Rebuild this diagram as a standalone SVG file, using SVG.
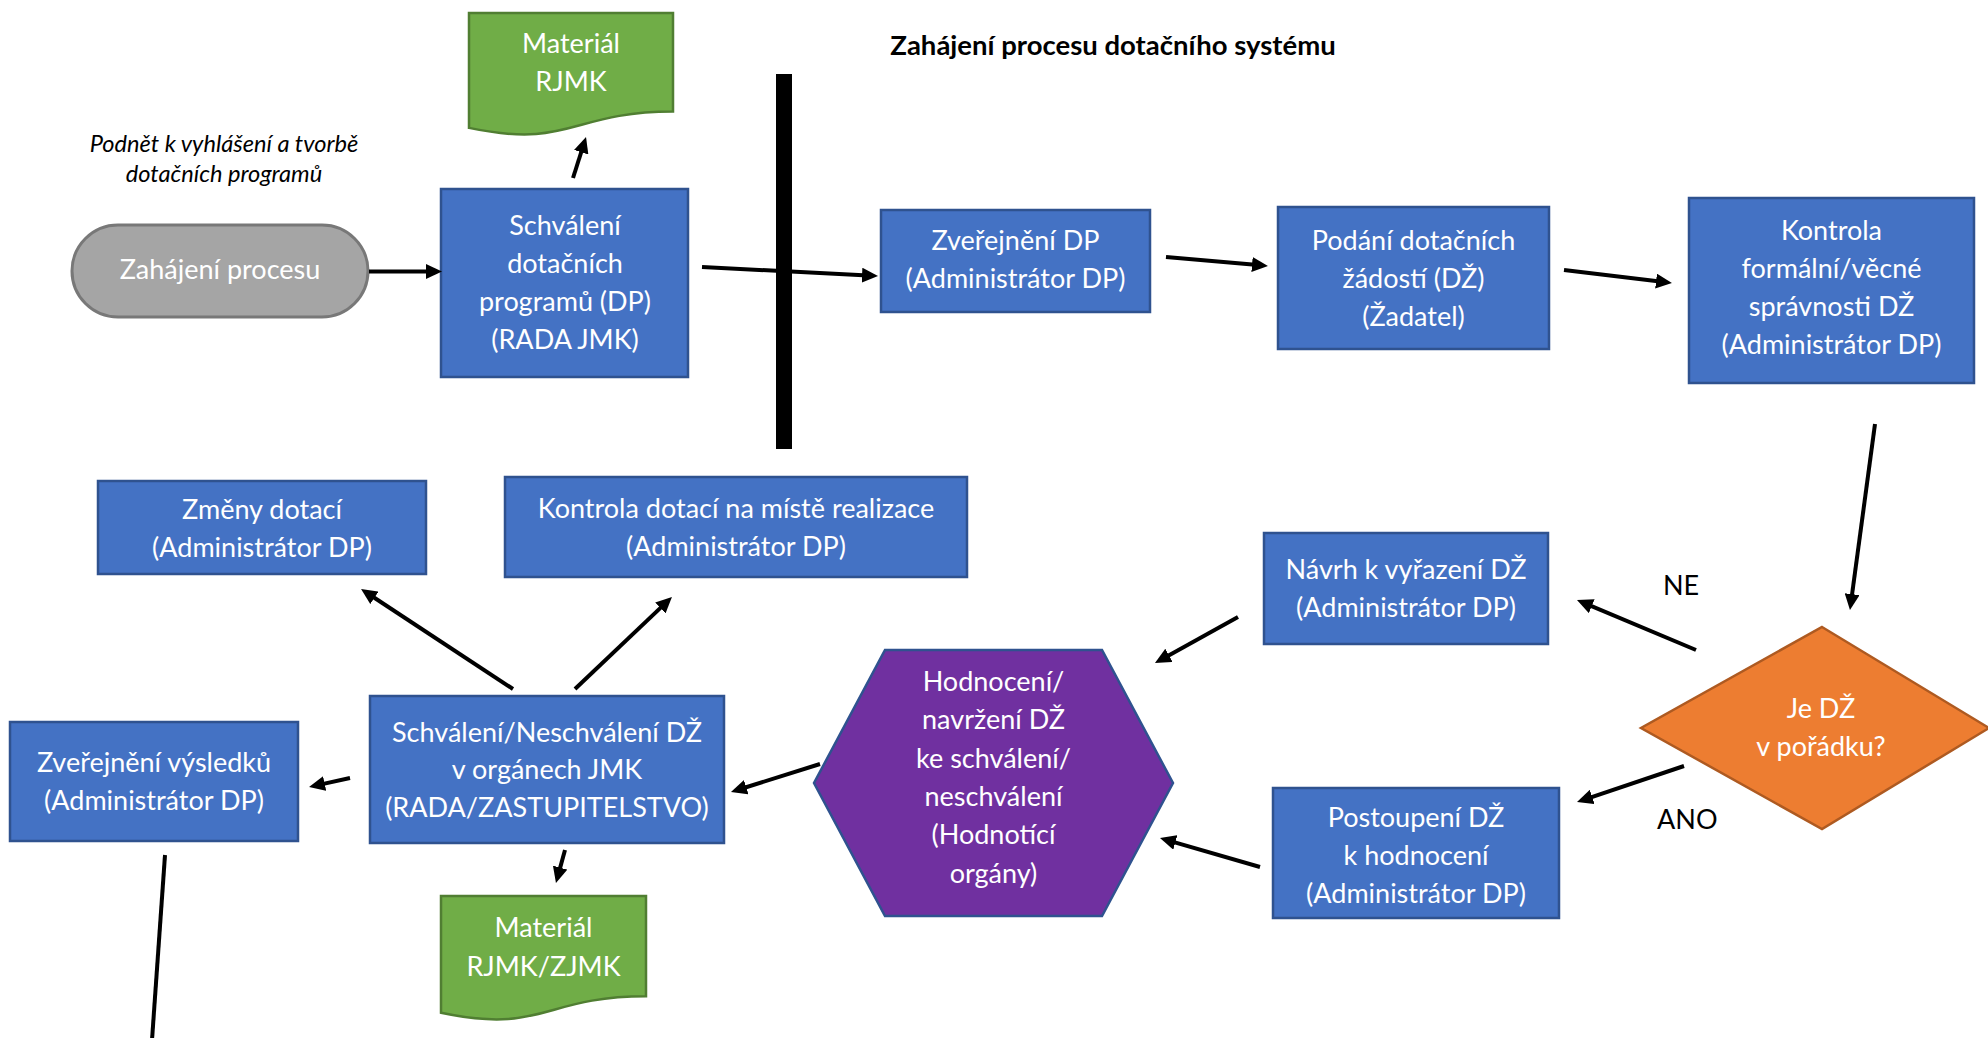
<svg xmlns="http://www.w3.org/2000/svg" width="1988" height="1038" viewBox="0 0 1988 1038">
<style>
.box{fill:#4472c4;stroke:#2f528f;stroke-width:2.5}
.doc{fill:#70ad47;stroke:#507e32;stroke-width:2.5}
.t{font-family:Lato,"Liberation Sans",sans-serif;font-size:27px;fill:#ffffff;text-anchor:middle}
.k{font-family:Lato,"Liberation Sans",sans-serif;font-size:27px;fill:#000000}
.conn line{stroke:#000;stroke-width:4;fill:none}
.conn line.a{marker-end:url(#ah)}
</style>
<defs>
<marker id="ah" markerUnits="userSpaceOnUse" markerWidth="16" markerHeight="15" refX="6" refY="7.5" orient="auto"><path d="M0,0 L16,7.5 L0,15 Z" fill="#000"/></marker>
</defs>
<rect width="1988" height="1038" fill="#ffffff"/>

<g id="title"><text x="1113" y="55" class="k" style="font-weight:bold;font-size:27.5px;text-anchor:middle">Zahájení procesu dotačního systému</text></g>
<g id="podnet"><text class="k" style="font-style:italic;font-size:23.6px;text-anchor:middle"><tspan x="224" y="152">Podnět k vyhlášení a tvorbě</tspan><tspan x="224" y="182">dotačních programů</tspan></text></g>

<g id="bar"><rect x="776" y="74" width="16" height="375" fill="#000"/></g>

<g id="start"><rect x="72" y="225" width="296" height="92" rx="46" ry="46" fill="#a5a5a5" stroke="#787878" stroke-width="3"/><text x="220" y="279" class="t">Zahájení procesu</text></g>

<g id="schvaleni-dp"><rect class="box" x="441" y="189" width="247" height="188"/><text class="t"><tspan x="565" y="235">Schválení</tspan><tspan x="565" y="273">dotačních</tspan><tspan x="565" y="311">programů (DP)</tspan><tspan x="565" y="349">(RADA JMK)</tspan></text></g>

<g id="material-rjmk"><path class="doc" d="M469,13 H673 V111.6 C571,111.6 571,149.2 469,127.9 Z"/><text class="t"><tspan x="571" y="53">Materiál</tspan><tspan x="571" y="91">RJMK</tspan></text></g>

<g id="zverejneni-dp"><rect class="box" x="881" y="210" width="269" height="102"/><text class="t"><tspan x="1015.5" y="250">Zveřejnění DP</tspan><tspan x="1015.5" y="288">(Administrátor DP)</tspan></text></g>

<g id="podani"><rect class="box" x="1278" y="207" width="271" height="142"/><text class="t"><tspan x="1413.5" y="250">Podání dotačních</tspan><tspan x="1413.5" y="288">žádostí (DŽ)</tspan><tspan x="1413.5" y="326">(Žadatel)</tspan></text></g>

<g id="kontrola-formalni"><rect class="box" x="1689" y="198" width="285" height="185"/><text class="t"><tspan x="1831.5" y="240">Kontrola</tspan><tspan x="1831.5" y="278">formální/věcné</tspan><tspan x="1831.5" y="316">správnosti DŽ</tspan><tspan x="1831.5" y="354">(Administrátor DP)</tspan></text></g>

<g id="je-dz"><path d="M1822,627 L1989,728 L1822,829 L1641,728 Z" fill="#ed7d31" stroke="#ae5a21" stroke-width="2.5"/><text class="t"><tspan x="1821" y="718">Je DŽ</tspan><tspan x="1821" y="756">v pořádku?</tspan></text></g>

<g id="navrh"><rect class="box" x="1264" y="533" width="284" height="111"/><text class="t"><tspan x="1406" y="579">Návrh k vyřazení DŽ</tspan><tspan x="1406" y="617">(Administrátor DP)</tspan></text></g>

<g id="postoupeni"><rect class="box" x="1273" y="788" width="286" height="130"/><text class="t"><tspan x="1416" y="827">Postoupení DŽ</tspan><tspan x="1416" y="865">k hodnocení</tspan><tspan x="1416" y="903">(Administrátor DP)</tspan></text></g>

<g id="hodnoceni"><path d="M885,650 L1102,650 L1173,783 L1102,916 L885,916 L814,783 Z" fill="#7030a0" stroke="#2f528f" stroke-width="2.5"/><text class="t"><tspan x="993.5" y="691">Hodnocení/</tspan><tspan x="993.5" y="729">navržení DŽ</tspan><tspan x="993.5" y="768">ke schválení/</tspan><tspan x="993.5" y="806">neschválení</tspan><tspan x="993.5" y="844">(Hodnotící</tspan><tspan x="993.5" y="883">orgány)</tspan></text></g>

<g id="schvaleni-dz"><rect class="box" x="370" y="696" width="354" height="147"/><text class="t"><tspan x="547" y="742">Schválení/Neschválení DŽ</tspan><tspan x="547" y="779">v orgánech JMK</tspan><tspan x="547" y="817">(RADA/ZASTUPITELSTVO)</tspan></text></g>

<g id="zmeny"><rect class="box" x="98" y="481" width="328" height="93"/><text class="t"><tspan x="262" y="519">Změny dotací</tspan><tspan x="262" y="557">(Administrátor DP)</tspan></text></g>

<g id="kontrola-mista"><rect class="box" x="505" y="477" width="462" height="100"/><text class="t"><tspan x="736" y="518">Kontrola dotací na místě realizace</tspan><tspan x="736" y="556">(Administrátor DP)</tspan></text></g>

<g id="zverejneni-vysledku"><rect class="box" x="10" y="722" width="288" height="119"/><text class="t"><tspan x="154" y="772">Zveřejnění výsledků</tspan><tspan x="154" y="810">(Administrátor DP)</tspan></text></g>

<g id="material-rjmk-zjmk"><path class="doc" d="M441,896 H646 V996.3 C543.5,996.3 543.5,1034.4 441,1012.8 Z"/><text class="t"><tspan x="543.5" y="937">Materiál</tspan><tspan x="543.5" y="976">RJMK/ZJMK</tspan></text></g>

<g id="labels"><text class="k" x="1663" y="595">NE</text><text class="k" x="1657" y="829">ANO</text></g>

<g id="connectors" class="conn">
<line class="a" x1="369" y1="271.5" x2="432" y2="271.5"/>
<line class="a" x1="573" y1="178" x2="583" y2="146.5"/>
<line class="a" x1="702" y1="267" x2="868" y2="275.5"/>
<line class="a" x1="1166" y1="257" x2="1258" y2="265.1"/>
<line class="a" x1="1564" y1="270" x2="1662" y2="281.8"/>
<line class="a" x1="1875" y1="424" x2="1851.3" y2="600.1"/>
<line class="a" x1="1696" y1="650" x2="1586.2" y2="603.9"/>
<line class="a" x1="1684" y1="766" x2="1586.5" y2="798.8"/>
<line class="a" x1="1238" y1="617" x2="1163.7" y2="658.2"/>
<line class="a" x1="1260" y1="867" x2="1169.6" y2="840.8"/>
<line class="a" x1="820" y1="764" x2="740.5" y2="789"/>
<line class="a" x1="513" y1="689" x2="369.4" y2="594.5"/>
<line class="a" x1="575" y1="689" x2="664.7" y2="603.9"/>
<line class="a" x1="350" y1="778" x2="318.8" y2="784.9"/>
<line class="a" x1="565" y1="850" x2="558.6" y2="873.4"/>
<line x1="165" y1="855" x2="152" y2="1040"/>
</g>
</svg>
